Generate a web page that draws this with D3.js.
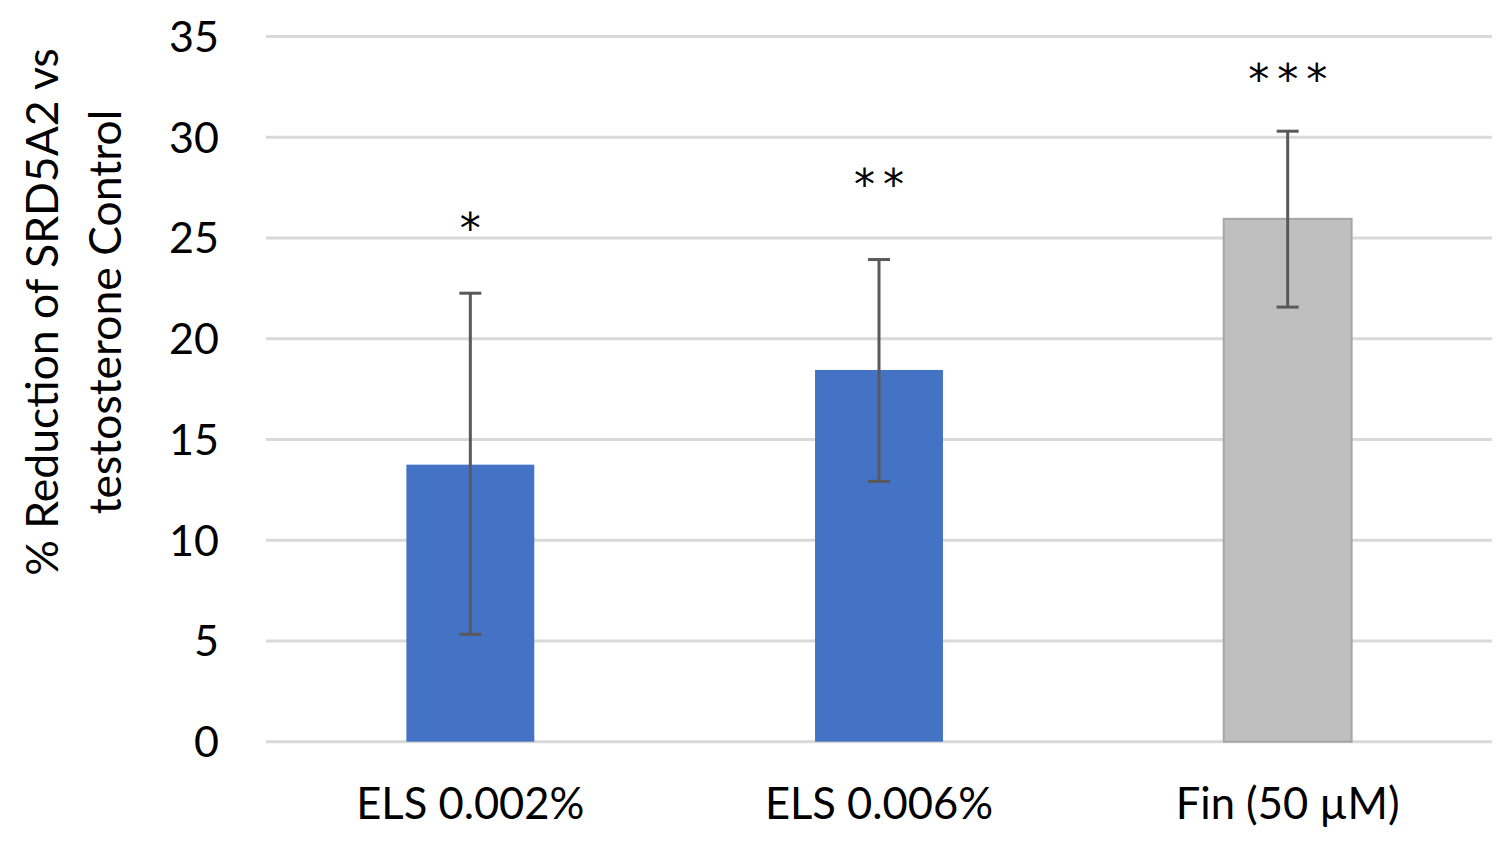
<!DOCTYPE html>
<html><head><meta charset="utf-8">
<script src="https://cdn.jsdelivr.net/npm/d3@7"></script>
<style>html,body{margin:0;padding:0;background:#fff;}</style>
</head><body>
<svg id="chart" width="1510" height="847"></svg>
<script>
const categories = ["ELS 0.002%", "ELS 0.006%", "Fin (50 µM)"];
const values = [13.75, 18.45, 25.95];
const errLow = [5.33, 12.92, 21.57];
const errHigh = [22.26, 23.93, 30.3];
const stars = ["*", "**", "***"];
const starLevel = [25.8, 28.0, 33.2];
const barColors = ["#4472c4", "#4472c4", "#bfbfbf"];
const yTicks = [0, 5, 10, 15, 20, 25, 30, 35];

(function(){
const svg = d3.select("#chart");
const font = "Lato, 'Open Sans', sans-serif";
const mLeft = 266, mRight = 1492, mTop = 36.5, mBottom = 741.7;
const x = d3.scaleBand().domain(categories).range([mLeft, mRight]).padding(0);
const y = d3.scaleLinear().domain([0, 35]).range([mBottom, mTop]);
const bw = x.bandwidth() * 0.313;

svg.append("g").selectAll("line").data(yTicks).join("line")
  .attr("x1", mLeft).attr("x2", mRight)
  .attr("y1", d => y(d)).attr("y2", d => y(d))
  .attr("stroke", "#d9d9d9").attr("stroke-width", 3);

svg.append("g").selectAll("text").data(yTicks).join("text")
  .attr("x", 219).attr("y", d => y(d)).attr("dy", "0.36em")
  .attr("text-anchor", "end").attr("font-family", font).attr("font-size", 43)
  .attr("fill", "#000").text(d => d);

svg.append("g").selectAll("rect").data(categories).join("rect")
  .attr("x", d => x(d) + x.bandwidth()/2 - bw/2)
  .attr("width", bw)
  .attr("y", (d,i) => y(values[i]))
  .attr("height", (d,i) => y(0) - y(values[i]))
  .attr("fill", (d,i) => barColors[i])
  .attr("stroke", (d,i) => i === 2 ? "#a6a6a6" : "none")
  .attr("stroke-width", 2);

const eb = svg.append("g").attr("stroke", "#595959").attr("stroke-width", 3);
categories.forEach((c, i) => {
  const cx = x(c) + x.bandwidth()/2;
  eb.append("line").attr("x1", cx).attr("x2", cx).attr("y1", y(errLow[i])).attr("y2", y(errHigh[i]));
  [errLow[i], errHigh[i]].forEach(v => {
    eb.append("line").attr("x1", cx - 11).attr("x2", cx + 11).attr("y1", y(v)).attr("y2", y(v));
  });
});

svg.append("g").selectAll("text").data(categories).join("text")
  .attr("x", d => x(d) + x.bandwidth()/2 + 4)
  .attr("y", (d,i) => y(starLevel[i]) + 21)
  .attr("text-anchor", "middle").attr("font-family", "'DejaVu Sans', sans-serif").attr("font-size", 42)
  .attr("letter-spacing", "8px")
  .attr("fill", "#000").text((d,i) => stars[i]);

svg.append("g").selectAll("text").data(categories).join("text")
  .attr("x", d => x(d) + x.bandwidth()/2).attr("y", 819)
  .attr("text-anchor", "middle").attr("font-family", font).attr("font-size", 43.5)
  .attr("fill", "#000").text(d => d);

const yt = svg.append("text").attr("transform", "translate(0,312) rotate(-90)")
  .attr("text-anchor", "middle").attr("font-family", font).attr("font-size", 44.5).attr("fill", "#000");
yt.append("tspan").attr("x", 0).attr("y", 58).text("% Reduction of SRD5A2 vs");
yt.append("tspan").attr("x", 0).attr("y", 121).text("testosterone Control");
})();
</script>
</body></html>
